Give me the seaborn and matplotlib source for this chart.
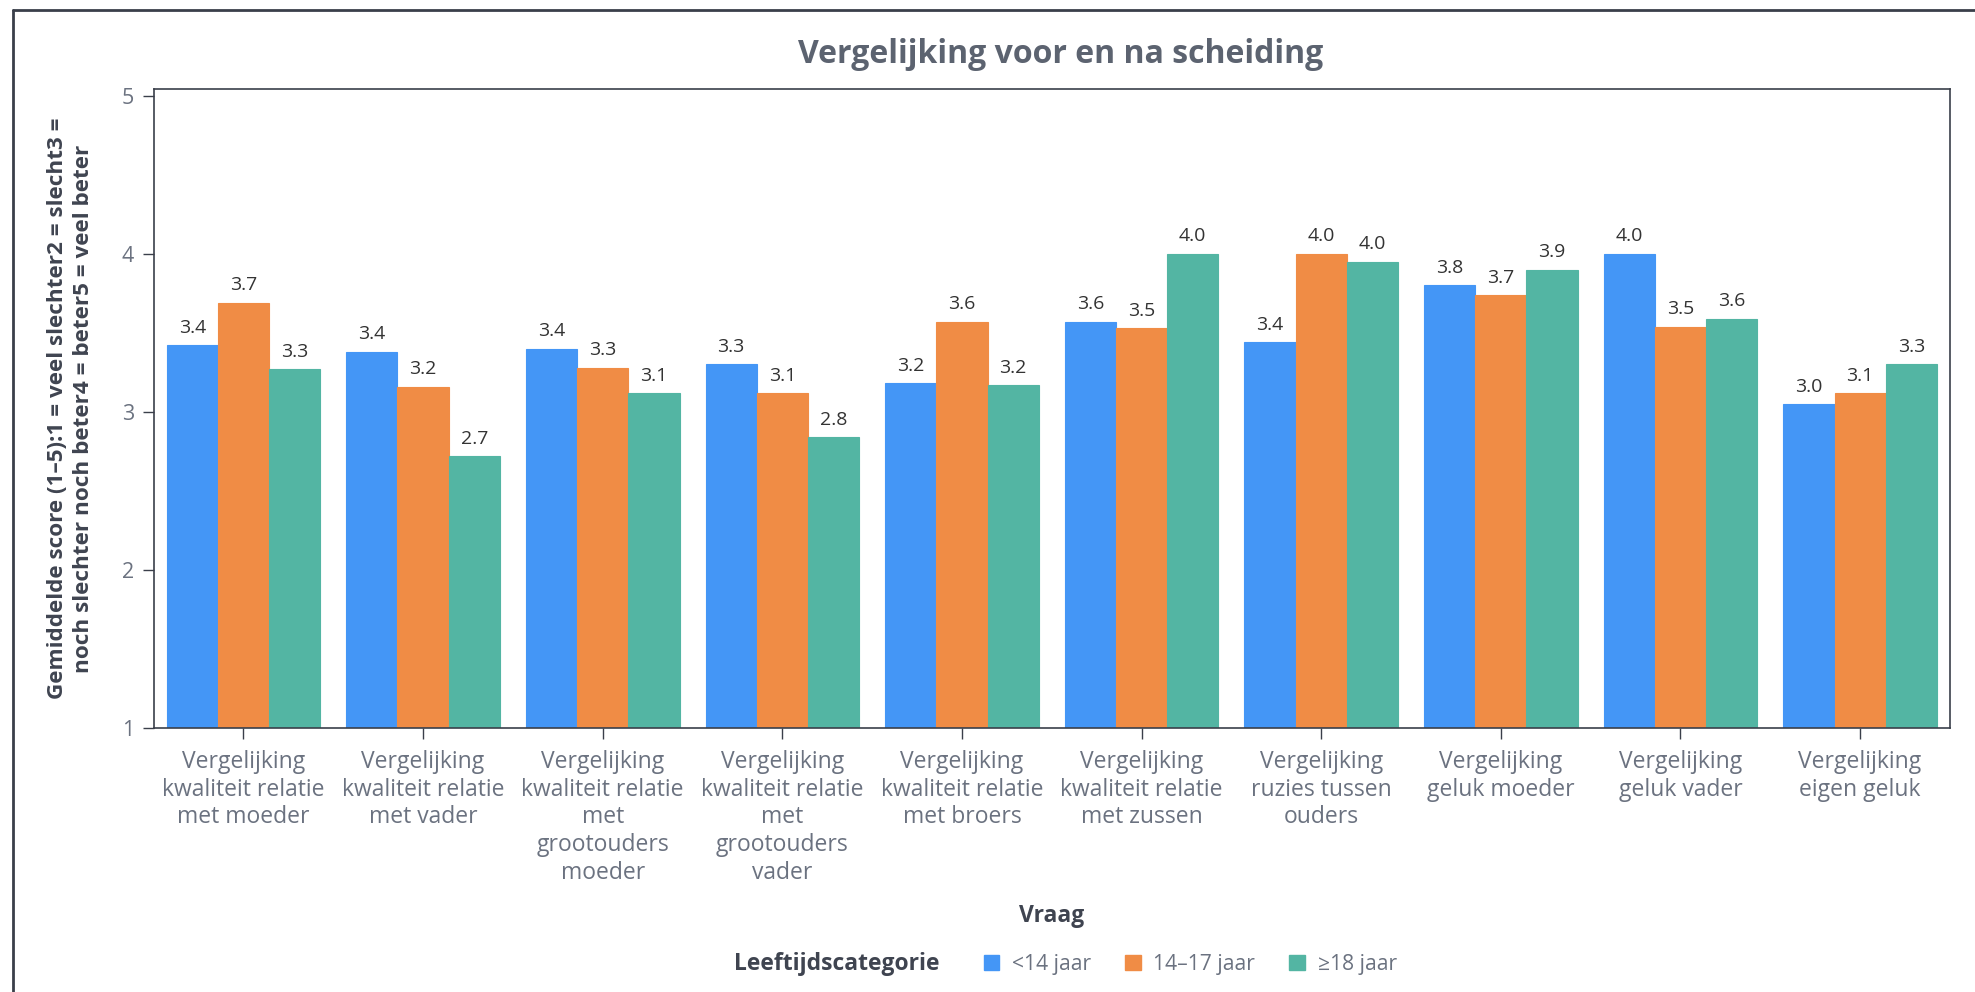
import numpy as np
import pandas as pd
import seaborn as sns
import matplotlib.pyplot as plt
from matplotlib.lines import Line2D
from matplotlib.patches import Patch

vragen = [
    "Vergelijking\nkwaliteit relatie\nmet moeder",
    "Vergelijking\nkwaliteit relatie\nmet vader",
    "Vergelijking\nkwaliteit relatie\nmet\ngrootouders\nmoeder",
    "Vergelijking\nkwaliteit relatie\nmet\ngrootouders\nvader",
    "Vergelijking\nkwaliteit relatie\nmet broers",
    "Vergelijking\nkwaliteit relatie\nmet zussen",
    "Vergelijking\nruzies tussen\nouders",
    "Vergelijking\ngeluk moeder",
    "Vergelijking\ngeluk vader",
    "Vergelijking\neigen geluk",
]
leeftijden = ["<14 jaar", "14–17 jaar", "≥18 jaar"]
onder_14 = [3.42, 3.38, 3.40, 3.30, 3.18, 3.57, 3.44, 3.80, 4.00, 3.05]
van_14_17 = [3.69, 3.16, 3.28, 3.12, 3.57, 3.53, 4.00, 3.74, 3.54, 3.12]
vanaf_18 = [3.27, 2.72, 3.12, 2.84, 3.17, 4.00, 3.95, 3.90, 3.59, 3.30]
kleuren = ["#4496F6", "#F08C45", "#53B5A3"]

df = pd.DataFrame({
    "Vraag": vragen * 3,
    "Leeftijdscategorie": np.repeat(leeftijden, len(vragen)),
    "score": onder_14 + van_14_17 + vanaf_18,
})

sns.set_theme(style="white")
plt.rcParams["font.family"] = ["Open Sans", "DejaVu Sans"]

tekst_grijs = "#6B7280"
donker = "#3A3F4A"

fig = plt.figure(figsize=(19.75, 9.92), dpi=100)
ax = fig.add_axes([0.0778, 0.2661, 0.9095, 0.6438])

sns.barplot(data=df, x="Vraag", y="score", hue="Leeftijdscategorie",
            hue_order=leeftijden, palette=kleuren, width=0.855,
            saturation=1, legend=False, ax=ax)

for cont, kleur in zip(ax.containers, kleuren):
    for bar in cont:
        bar.set_edgecolor(kleur)
        bar.set_linewidth(0.8)
    ax.bar_label(cont, fmt="%.1f", padding=6, fontsize=14, color="#333333")

ax.set_ylim(1, 5.04)
ax.set_yticks([1, 2, 3, 4, 5])
ax.set_xlim(-0.5, len(vragen) - 0.5)

for s in ax.spines.values():
    s.set_visible(True)
    s.set_color(donker)
    s.set_linewidth(1.2)

ax.tick_params(axis="both", which="both", direction="out", length=8, width=1,
               color=donker, labelcolor=tekst_grijs, labelsize=16.5, pad=8,
               left=True, bottom=True)
ax.tick_params(axis="y", labelsize=15.5, pad=6)
for lbl in ax.get_xticklabels():
    lbl.set_linespacing(1.2)

ax.set_xlabel("Vraag", fontsize=16.5, fontweight="bold", color="#3F4450", labelpad=14)
ax.set_ylabel("Gemiddelde score (1–5):1 = veel slechter2 = slecht3 =\nnoch slechter noch beter4 = beter5 = veel beter",
              fontsize=16.2, fontweight="bold", color="#3F4450", labelpad=20,
              linespacing=1.3)

fig.suptitle("Vergelijking voor en na scheiding", x=0.537, y=0.962,
             fontsize=23, fontweight="bold", color="#5C6370")

# legenda met titel links ervan
fig.text(0.4755, 0.028, "Leeftijdscategorie", ha="right", va="center",
         fontsize=16.5, fontweight="bold", color="#3F4450")
handles = [Patch(facecolor=k, edgecolor=k) for k in kleuren]
fig.legend(handles, leeftijden, loc="center left", bbox_to_anchor=(0.498, 0.028),
           ncol=3, frameon=False, fontsize=15.2, labelcolor=tekst_grijs,
           handlelength=0.75, handleheight=0.75, handletextpad=0.6,
           columnspacing=1.6, borderaxespad=0, borderpad=0)

# rand van de afbeelding (boven en links)
fig.add_artist(Line2D([0.0066, 1.0], [0.990, 0.990], transform=fig.transFigure,
                      color=donker, linewidth=2))
fig.add_artist(Line2D([0.0066, 0.0066], [0.0, 0.990], transform=fig.transFigure,
                      color=donker, linewidth=2))

plt.savefig("out.png", dpi=100)
plt.close()
